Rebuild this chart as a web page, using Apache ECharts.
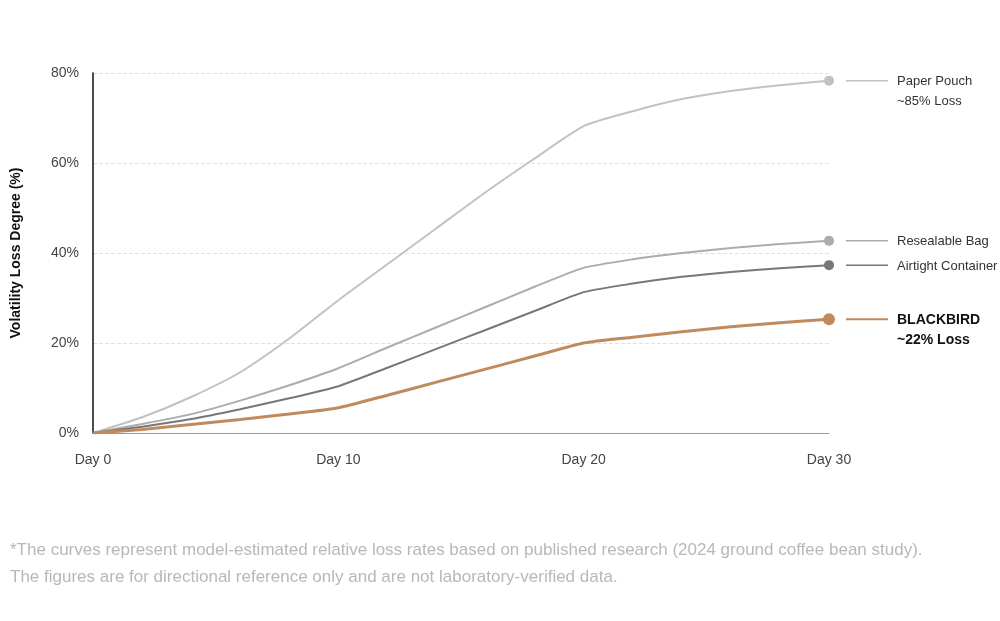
<!DOCTYPE html>
<html>
<head>
<meta charset="utf-8">
<script src="https://cdn.jsdelivr.net/npm/echarts@6/dist/echarts.min.js"></script>
<style>
  html, body { margin: 0; padding: 0; background: #fff; }
  #chart { width: 1000px; height: 621px; }
</style>
</head>
<body>
<div id="chart"></div>
<script>
//数据
var days = ['Day 0', '', '', '', '', 'Day 10', '', '', '', '', 'Day 20', '', '', '', '', 'Day 30'];
var paperPouch = [0, 3.5, 8, 13.5, 21, 29.5, 37.5, 45.5, 53.5, 61, 68.2, 71.5, 74.2, 76, 77.3, 78.3];
var resealableBag = [0, 2, 4.2, 7.2, 10.6, 14.4, 19, 23.5, 28, 32.5, 36.7, 38.6, 40, 41.1, 42, 42.7];
var airtightContainer = [0, 1.4, 3.1, 5.3, 7.7, 10.4, 14.5, 18.7, 22.9, 27.1, 31.3, 33.2, 34.7, 35.8, 36.6, 37.3];
var blackbird = [0, 0.8, 1.9, 3, 4.2, 5.6, 8.4, 11.3, 14.2, 17.1, 20, 21.3, 22.5, 23.6, 24.5, 25.3];
var yTicks = [0, 20, 40, 60, 80];

var seriesDefs = [
    { name: 'Paper Pouch', sub: '~85% Loss', data: paperPouch, color: '#c2c2c2', width: 2, dot: 10, bold: false },
    { name: 'Resealable Bag', sub: '', data: resealableBag, color: '#acacac', width: 2, dot: 10, bold: false },
    { name: 'Airtight Container', sub: '', data: airtightContainer, color: '#777777', width: 2, dot: 10, bold: false },
    { name: 'BLACKBIRD', sub: '~22% Loss', data: blackbird, color: '#c08a5c', width: 3, dot: 12, bold: true }
];

(function () {
    var myChart = echarts.init(document.getElementById('chart'));
    var last = days.length - 1;
    var series = seriesDefs.map(function (s) {
        return {
            name: s.name,
            type: 'line',
            smooth: 0.2,
            data: s.data.map(function (v, i) {
                if (i === last) {
                    return { value: v, symbol: 'circle', symbolSize: s.dot };
                }
                return { value: v, symbol: 'none' };
            }),
            showSymbol: true,
            itemStyle: { color: s.color },
            lineStyle: { color: s.color, width: s.width },
            z: s.bold ? 5 : 3
        };
    });

    var option = {
        animation: false,
        grid: { left: 93, right: 171, top: 73, bottom: 188 },
        xAxis: {
            type: 'category',
            boundaryGap: false,
            data: days,
            axisLine: { lineStyle: { color: '#999', width: 1 } },
            axisTick: { show: false },
            axisLabel: {
                color: '#444', fontSize: 14, margin: 20, interval: 0,
                fontFamily: 'Liberation Sans, Arial'
            },
            splitLine: { show: false }
        },
        yAxis: {
            type: 'value',
            min: 0, max: 80, interval: 20,
            name: 'Volatility Loss Degree (%)',
            nameLocation: 'middle',
            nameGap: 70,
            nameRotate: 90,
            nameTextStyle: { color: '#111', fontSize: 14, fontWeight: 'bold', fontFamily: 'Liberation Sans, Arial' },
            axisLine: { show: true, lineStyle: { color: '#111', width: 1.5 } },
            axisTick: { show: false },
            axisLabel: {
                color: '#444', fontSize: 14, margin: 14,
                fontFamily: 'Liberation Sans, Arial',
                formatter: function (v) { return yTicks.indexOf(v) >= 0 ? v + '%' : ''; }
            },
            splitLine: { lineStyle: { color: '#e2e2e2', type: 'dashed' } }
        },
        series: series
    };
    myChart.setOption(option);

    //右侧标签，位置由坐标换算
    var graphics = [];
    seriesDefs.forEach(function (s) {
        var p = myChart.convertToPixel({ gridIndex: 0 }, [last, s.data[last]]);
        var y = p[1];
        graphics.push({
            type: 'line',
            shape: { x1: p[0] + 17, y1: y, x2: p[0] + 59, y2: y },
            style: { stroke: s.color, lineWidth: s.bold ? 2 : 1.5 }
        });
        graphics.push({
            type: 'text',
            x: p[0] + 68, y: y - 9,
            style: {
                text: s.name + (s.sub ? '\n' + s.sub : ''),
                fill: s.bold ? '#111' : '#333',
                font: (s.bold ? 'bold 14px' : '13px') + ' Liberation Sans, Arial',
                lineHeight: 20
            }
        });
    });
    graphics.push({
        type: 'text', left: 10, top: 537,
        style: {
            text: '*The curves represent model-estimated relative loss rates based on published research (2024 ground coffee bean study).\nThe figures are for directional reference only and are not laboratory-verified data.',
            fill: '#b8b8b8', font: '17px Liberation Sans, Arial', lineHeight: 27
        }
    });
    myChart.setOption({ graphic: graphics });

    window.addEventListener('resize', function () {
        myChart.resize();
    });
})();
</script>
</body>
</html>
